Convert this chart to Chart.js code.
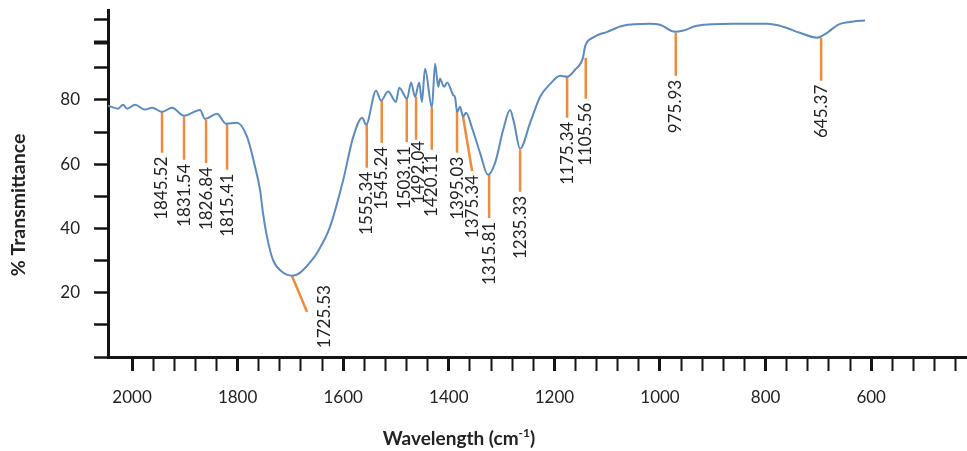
<!DOCTYPE html>
<html>
<head>
<meta charset="utf-8">
<script src="https://cdn.jsdelivr.net/npm/chart.js@4.4.1/dist/chart.umd.min.js"></script>
<style>
  html, body { margin: 0; padding: 0; background: #ffffff; }
  #wrap { width: 967px; height: 451px; }
</style>
</head>
<body>
<div id="wrap"><canvas id="c" width="967" height="451"></canvas></div>
<script>
// ---- Spectrum (axis units) ----
const wavenumbers = [2045.5, 2026.5, 2017, 2009.5, 1994.3, 1975.4, 1962, 1943.2, 1924.2, 1901.5,
  1871.2, 1861.7, 1839, 1822, 1801.1, 1782, 1767, 1757.5, 1752, 1744.3,
  1733, 1716, 1697, 1682, 1659, 1649.6, 1625, 1600, 1581, 1564,
  1556.7, 1537.8, 1528.3, 1515, 1500, 1494, 1479, 1471.5, 1464, 1456,
  1451, 1445, 1432, 1426, 1420, 1416.6, 1409, 1403, 1392, 1388,
  1384.4, 1378.7, 1373, 1367.3, 1356, 1341, 1325.6, 1312.4, 1297, 1284,
  1276.4, 1265, 1246, 1227, 1208, 1189, 1176, 1161, 1146, 1142,
  1127, 1100, 1070, 1019, 1000, 971.4, 956, 930, 862, 797,
  767, 735, 702.4, 683.5, 663, 634, 611.5];
const transmittance = [78.2, 77.3, 78.5, 77.3, 78.5, 77.0, 77.6, 76.3, 77.6, 75.1,
  76.9, 74.1, 75.7, 72.6, 72.9, 68.5, 59.2, 52.0, 44.9, 37.4,
  30.2, 26.5, 25.3, 26.2, 30.2, 32.4, 40.5, 55.1, 68.5, 74.5,
  72.3, 82.9, 79.8, 82.6, 79.4, 83.8, 80.4, 85.4, 81.0, 85.4,
  79.4, 89.7, 77.6, 91.3, 84.1, 86.6, 84.1, 85.4, 81.6, 80.7,
  76.3, 77.9, 74.8, 76.0, 71.3, 63.6, 56.7, 60.4, 70.7, 76.9,
  72.9, 64.8, 72.9, 81, 85, 87.5, 87.2, 89.4, 93.1, 96.6,
  99.4, 101.2, 103.1, 103.7, 103.4, 101.2, 101.6, 103.1, 103.7, 103.7,
  102.8, 100.9, 99.4, 100.9, 103.4, 104.4, 104.7];

// ---- Peak annotations ----
const peakLabels = ['1845.52', '1831.54', '1826.84', '1815.41', '1725.53', '1555.34', '1545.24',
  '1503.11', '1492.04', '1420.11', '1395.03', '1375.34', '1315.81', '1235.33', '1175.34',
  '1105.56', '975.93', '645.37'];
const peakX    = [1943.2, 1901.5, 1859.8, 1820, 1696.9, 1555.4, 1527, 1479.6, 1462, 1432.3,
  1384.4, 1373, 1323.7, 1265, 1176, 1140.6, 970.1, 694.8];
const peakTopY = [76.3, 74.8, 73.8, 72.6, 25.2, 72.3, 79.8, 80.4, 81, 77.6,
  76.6, 74.8, 56.7, 64.5, 87.2, 93.1, 100.9, 99.4];
const peakEndX = [1943.2, 1901.5, 1859.8, 1820, 1668.5, 1555.4, 1527, 1479.6, 1462, 1432.3,
  1384.4, 1355.9, 1323.7, 1265, 1176, 1140.6, 970.1, 694.8];
const peakEndY = [63.6, 61.4, 60.4, 58.3, 14.0, 58.9, 66.7, 66.9, 67.6, 64.5,
  63.6, 57.9, 43.3, 51.4, 74.5, 80.4, 87.5, 86];

// ---- Axis ticks ----
const xTickValues = [2000, 1960, 1920, 1880, 1840, 1800, 1760, 1720, 1680, 1640,
  1600, 1560, 1520, 1480, 1440, 1400, 1360, 1320, 1280, 1240,
  1200, 1160, 1120, 1080, 1040, 1000, 960, 920, 880, 840,
  800, 760, 720, 680, 640, 600, 560, 520, 480, 440];
const xTickLabels = [2000, 1800, 1600, 1400, 1200, 1000, 800, 600];
const yTickValues = [0, 10, 20, 30, 40, 50, 60, 70, 80, 90, 98, 105];
const yTickLabels = [20, 40, 60, 80];

// ---- Text ----
const xTitleMain = 'Wavelength (cm';
const xTitleSup = '-1';
const xTitleEnd = ')';
const yTitle = '% Transmittance';

// ---- Styles (not data) ----
const BLUE = '#5b8bbf';
const ORANGE = '#f08a3c';
const TEXT = '#222222';
const AXIS = '#141414';
const FONT = 'Lato, "Open Sans", sans-serif';
const labelOffsets = { '1725.53': [17, -31], '1503.11': [-2, 0], '1492.04': [2.5, -3] };

const datasets = [{
  label: 'spectrum',
  data: wavenumbers.map((x, i) => ({ x: x, y: transmittance[i] })),
  borderColor: BLUE,
  borderWidth: 2,
  pointRadius: 0,
  cubicInterpolationMode: 'monotone',
  fill: false,
  order: 0
}];
peakLabels.forEach((lab, i) => {
  datasets.push({
    label: lab,
    data: [{ x: peakX[i], y: peakTopY[i] }, { x: peakEndX[i], y: peakEndY[i] }],
    borderColor: ORANGE,
    borderWidth: 2.5,
    pointRadius: 0,
    tension: 0,
    fill: false,
    order: 1
  });
});

const annotationPlugin = {
  id: 'peakText',
  afterDatasetsDraw(chart) {
    const ctx = chart.ctx;
    const xs = chart.scales.x, ys = chart.scales.y;
    ctx.save();
    ctx.fillStyle = TEXT;
    ctx.font = '17px ' + FONT;
    ctx.textAlign = 'right';
    ctx.textBaseline = 'middle';
    peakLabels.forEach((lab, i) => {
      const off = labelOffsets[lab] || [0, 0];
      const px = xs.getPixelForValue(peakEndX[i]) + off[0];
      const py = ys.getPixelForValue(peakEndY[i]) + 4 + off[1];
      ctx.save();
      ctx.translate(px, py);
      ctx.rotate(-Math.PI / 2);
      ctx.fillText(lab, 0, 0);
      ctx.restore();
    });
    ctx.restore();
  },
  afterDraw(chart) {
    const ctx = chart.ctx;
    ctx.save();
    ctx.fillStyle = TEXT;
    // x title with superscript
    const mainFont = 'bold 19px ' + FONT;
    const supFont = 'bold 12px ' + FONT;
    ctx.font = mainFont;
    const w1 = ctx.measureText(xTitleMain).width;
    const w3 = ctx.measureText(xTitleEnd).width;
    ctx.font = supFont;
    const w2 = ctx.measureText(xTitleSup).width;
    const total = w1 + w2 + w3;
    let x0 = 459 - total / 2;
    const yb = 445;
    ctx.textAlign = 'left';
    ctx.textBaseline = 'alphabetic';
    ctx.font = mainFont;
    ctx.fillText(xTitleMain, x0, yb);
    ctx.font = supFont;
    ctx.fillText(xTitleSup, x0 + w1, yb - 8);
    ctx.font = mainFont;
    ctx.fillText(xTitleEnd, x0 + w1 + w2, yb);
    // y title
    ctx.font = 'bold 19.5px ' + FONT;
    ctx.textAlign = 'center';
    ctx.textBaseline = 'middle';
    ctx.translate(19, 205);
    ctx.rotate(-Math.PI / 2);
    ctx.fillText(yTitle, 0, 0);
    ctx.restore();
  }
};

new Chart(document.getElementById('c'), {
  type: 'line',
  data: { datasets: datasets },
  plugins: [annotationPlugin],
  options: {
    responsive: false,
    devicePixelRatio: 1,
    animation: false,
    layout: { padding: { top: 10, right: 0, bottom: 0, left: 0 } },
    plugins: { legend: { display: false }, tooltip: { enabled: false } },
    scales: {
      x: {
        type: 'linear',
        reverse: true,
        min: 418.5,
        max: 2045.5,
        afterBuildTicks: (s) => { s.ticks = xTickValues.map(v => ({ value: v })); },
        afterFit: (s) => { s.height = 94; s.paddingLeft = 0; s.paddingRight = 0; },
        border: { display: true, color: AXIS, width: 3 },
        grid: {
          drawOnChartArea: false,
          drawTicks: true,
          tickLength: 14,
          tickColor: AXIS,
          tickWidth: (c) => (c.tick && xTickLabels.includes(c.tick.value)) ? 3 : 2
        },
        ticks: {
          autoSkip: false,
          maxRotation: 0,
          padding: 16,
          color: TEXT,
          font: { family: FONT, size: 17 },
          callback: (v) => xTickLabels.includes(v) ? String(v) : ''
        }
      },
      y: {
        type: 'linear',
        min: 0,
        max: 108,
        afterBuildTicks: (s) => { s.ticks = yTickValues.map(v => ({ value: v })); },
        afterFit: (s) => { s.width = 108; s.paddingTop = 0; s.paddingBottom = 0; },
        border: { display: true, color: AXIS, width: 3 },
        grid: {
          drawOnChartArea: false,
          drawTicks: true,
          tickLength: 14,
          tickColor: AXIS,
          tickWidth: (c) => (c.tick && c.tick.value === 98) ? 4 : 2.5
        },
        ticks: {
          autoSkip: false,
          padding: 14,
          color: TEXT,
          font: { family: FONT, size: 17 },
          callback: (v) => yTickLabels.includes(v) ? String(v) : ''
        }
      }
    }
  }
});
</script>
</body>
</html>
